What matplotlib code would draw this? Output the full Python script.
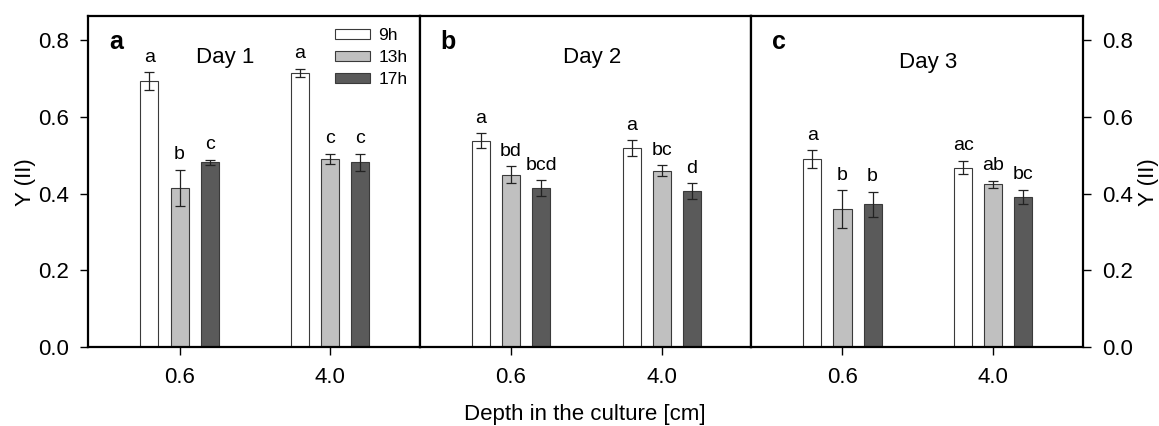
import matplotlib
matplotlib.use('Agg')
import matplotlib.pyplot as plt
import numpy as np
from matplotlib.patches import Patch

plt.rcParams['font.family'] = ['Liberation Sans', 'DejaVu Sans']

depths = ["0.6", "4.0"]
hours = ["9h", "13h", "17h"]
days = ["Day 1", "Day 2", "Day 3"]
panel_tags = ["a", "b", "c"]

# values[day][hour] -> per depth
values = [
    [[0.693, 0.715], [0.416, 0.491], [0.482, 0.482]],
    [[0.538, 0.519], [0.449, 0.460], [0.415, 0.407]],
    [[0.491, 0.468], [0.360, 0.424], [0.372, 0.392]],
]
errors = [
    [[0.024, 0.011], [0.047, 0.013], [0.007, 0.022]],
    [[0.020, 0.020], [0.022, 0.015], [0.021, 0.020]],
    [[0.023, 0.018], [0.049, 0.010], [0.033, 0.018]],
]
letters = [
    [["a", "a"], ["b", "c"], ["c", "c"]],
    [["a", "a"], ["bd", "bc"], ["bcd", "d"]],
    [["a", "ac"], ["b", "ab"], ["b", "bc"]],
]

colors = ["white", "#c0c0c0", "#5a5a5a"]
day_pos = [(0.415, 0.876), (0.52, 0.876), (0.535, 0.861)]

fig, axes = plt.subplots(1, 3, figsize=(11.59, 4.26), dpi=100, sharey=True)
fig.subplots_adjust(left=0.076, right=0.934, bottom=0.185, top=0.962, wspace=0)

x = np.arange(1, len(depths) + 1)
bw = 0.12
offs = [-0.2, 0.0, 0.2]

for d, ax in enumerate(axes):
    for h in range(3):
        v = np.array(values[d][h])
        e = np.array(errors[d][h])
        ax.bar(x + offs[h], v, bw, color=colors[h], edgecolor="#3a3a3a",
               linewidth=0.8, yerr=e, capsize=3.5,
               error_kw=dict(ecolor="#222222", elinewidth=0.9, capthick=0.9),
               label=hours[h], zorder=2)
        for i in range(len(depths)):
            ax.text(x[i] + offs[h], v[i] + e[i] + 0.027, letters[d][h][i],
                    ha="center", va="baseline", fontsize=14)
    ax.set_xlim(0.393, 2.593)
    ax.set_ylim(0, 0.8625)
    ax.set_xticks(x)
    ax.set_xticklabels(depths, fontsize=16)
    ax.set_yticks([0.0, 0.2, 0.4, 0.6, 0.8])
    ax.set_yticklabels(["0.0", "0.2", "0.4", "0.6", "0.8"], fontsize=16)
    ax.tick_params(axis="both", direction="out", length=6, width=1, pad=8)
    for s in ax.spines.values():
        s.set_linewidth(1.6)
    ax.text(0.085, 0.921, panel_tags[d], transform=ax.transAxes, fontsize=18,
            fontweight="bold", va="center", ha="center")
    ax.text(day_pos[d][0], day_pos[d][1], days[d], transform=ax.transAxes,
            fontsize=16, va="center", ha="center")
    if d > 0:
        ax.tick_params(axis="y", left=False)

axes[0].set_ylabel("Y (II)", fontsize=16, labelpad=1)
axes[2].yaxis.set_label_position("right")
axes[2].tick_params(axis="y", right=True, labelright=True, left=False)
axes[2].set_ylabel("Y (II)", fontsize=16, labelpad=4)
axes[1].set_xlabel("Depth in the culture [cm]", fontsize=16, labelpad=12)

handles = [Patch(facecolor=colors[h], edgecolor="#3a3a3a", linewidth=0.8, label=hours[h])
           for h in range(3)]
axes[0].legend(handles=handles, loc="upper right", frameon=False, fontsize=12.5,
               handlelength=2.0, handleheight=0.5, labelspacing=0.4,
               borderaxespad=0.0, handletextpad=0.5, bbox_to_anchor=(0.985, 0.985))

fig.savefig("out.png", dpi=100)
